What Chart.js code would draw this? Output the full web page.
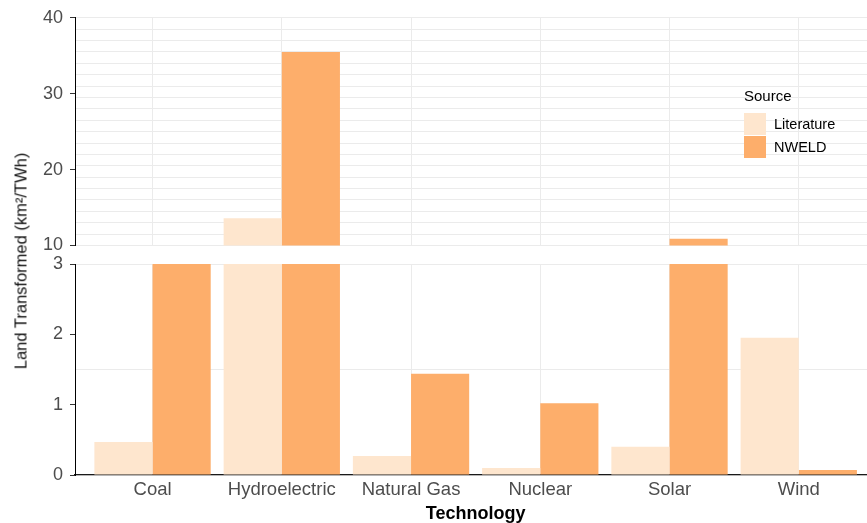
<!DOCTYPE html>
<html>
<head>
<meta charset="utf-8">
<title>Land Transformed by Technology</title>
<script src="https://cdn.jsdelivr.net/npm/chart.js@4.4.1/dist/chart.umd.min.js"></script>
<style>
  html, body { margin: 0; padding: 0; background: #ffffff; overflow: hidden; }
  #wrap { position: relative; width: 867px; height: 523px; overflow: hidden;
          font-family: "Liberation Sans", Arial, Helvetica, sans-serif; }
  #wrap canvas { position: absolute; left: 0; top: 0; }
  #ytitle { position: absolute; left: 21px; top: 261px; white-space: nowrap;
            transform: translate(-50%, -50%) rotate(-90deg);
            font-size: 16.5px; line-height: 17px; color: #111; font-weight: normal; }
  #legend { position: absolute; left: 744px; top: 88px; color: #000; }
  #legend .title { font-size: 15px; line-height: 15px; height: 25px; }
  #legend .row { position: relative; height: 23px; }
  #legend .key { position: absolute; left: 0; top: 0; width: 22px; height: 22px; }
  #legend .lab { position: absolute; left: 30px; top: 0; line-height: 22px; font-size: 14.5px; white-space: nowrap; }
</style>
</head>
<body>
<div id="wrap">
  <canvas id="upper" width="880" height="523"></canvas>
  <canvas id="lower" width="880" height="523"></canvas>
  <div id="ytitle">Land Transformed (km²/TWh)</div>
  <div id="legend"></div>
</div>
<script>
// Land transformed per unit of generation, km²/TWh
const categories = ["Coal", "Hydroelectric", "Natural Gas", "Nuclear", "Solar", "Wind"];
const literature = [0.47, 13.6, 0.27, 0.10, 0.40, 1.95];
const nweld      = [5.0, 35.5, 1.44, 1.02, 10.9, 0.07];

const seriesNames = ["Literature", "NWELD"];
const seriesColors = ["#FEE6CE", "#FDAE6B"];

// Axis labels for the two halves of the broken value axis
const lowerTickLabels = [0, 1, 2, 3];
const upperTickLabels = [10, 20, 30, 40];

const FONT = '"Liberation Sans", Arial, Helvetica, sans-serif';
const GRID = "#EBEBEB";
const GRID_STEP = 1.5;

function gridValues(min, max) {
  const out = [];
  for (let v = min; v <= max + 1e-9; v += GRID_STEP) out.push(+v.toFixed(6));
  return out;
}

function isGridValue(v, min) {
  const k = (v - min) / GRID_STEP;
  return Math.abs(k - Math.round(k)) < 1e-6;
}

function makePanel(id, min, max, labels, isLower) {
  const tickValues = Array.from(new Set(gridValues(min, max).concat(labels))).sort((a, b) => a - b);
  return new Chart(document.getElementById(id), {
    type: "bar",
    data: {
      labels: categories,
      datasets: [
        { label: seriesNames[0], data: literature.map((v, i) => ({ x: i, y: v })),
          backgroundColor: seriesColors[0], borderWidth: 0, clip: 0 },
        { label: seriesNames[1], data: nweld.map((v, i) => ({ x: i, y: v })),
          backgroundColor: seriesColors[1], borderWidth: 0, clip: 0 }
      ]
    },
    options: {
      responsive: false,
      animation: false,
      devicePixelRatio: 1,
      categoryPercentage: 0.9,
      barPercentage: 1.0,
      layout: { padding: isLower
        ? { top: 264, bottom: 0, left: 0, right: 3.7 }
        : { top: 17.5, bottom: 277.5, left: 0, right: 3.7 } },
      plugins: { legend: { display: false }, tooltip: { enabled: false } },
      scales: {
        x: {
          type: "linear",
          offset: false,
          min: -0.6,
          max: 5.6,
          afterBuildTicks: s => { s.ticks = categories.map((c, i) => ({ value: i })); },
          afterFit: s => { s.height = isLower ? 48 : 0; },
          grid: { offset: false, color: GRID, lineWidth: 1, drawTicks: false },
          border: { display: isLower, color: "#1a1a1a", width: 1.2 },
          ticks: {
            display: isLower,
            autoSkip: false,
            maxRotation: 0,
            padding: 4,
            color: "#4D4D4D",
            font: { family: FONT, size: 18.5 },
            callback: v => categories[v]
          },
          title: {
            display: isLower,
            text: "Technology",
            color: "#000",
            font: { family: FONT, size: 18, weight: "bold", lineHeight: 1 },
            padding: { top: 0, bottom: 0 }
          }
        },
        y: {
          type: "linear",
          min: min,
          max: max,
          afterBuildTicks: s => { s.ticks = tickValues.map(v => ({ value: v })); },
          afterFit: s => { s.width = 75; },
          grid: {
            lineWidth: 1,
            tickLength: 5,
            color: ctx => isGridValue(ctx.tick.value, min) ? GRID : "rgba(0,0,0,0)",
            tickColor: ctx => labels.includes(ctx.tick.value) ? "#333333" : "rgba(0,0,0,0)"
          },
          border: { display: true, color: "#000", width: 1 },
          ticks: {
            autoSkip: false,
            padding: 7,
            color: "#4D4D4D",
            font: { family: FONT, size: 18 },
            callback: v => labels.includes(v) ? String(v) : ""
          }
        }
      }
    }
  });
}

makePanel("upper", upperTickLabels[0], upperTickLabels[upperTickLabels.length - 1], upperTickLabels, false);
makePanel("lower", lowerTickLabels[0], lowerTickLabels[lowerTickLabels.length - 1], lowerTickLabels, true);

// Legend for the fill colours
const legend = document.getElementById("legend");
legend.innerHTML = '<div class="title">Source</div>' + seriesNames.map((n, i) =>
  '<div class="row"><span class="key" style="background:' + seriesColors[i] + '"></span>' +
  '<span class="lab">' + n + '</span></div>').join("");
</script>
</body>
</html>
